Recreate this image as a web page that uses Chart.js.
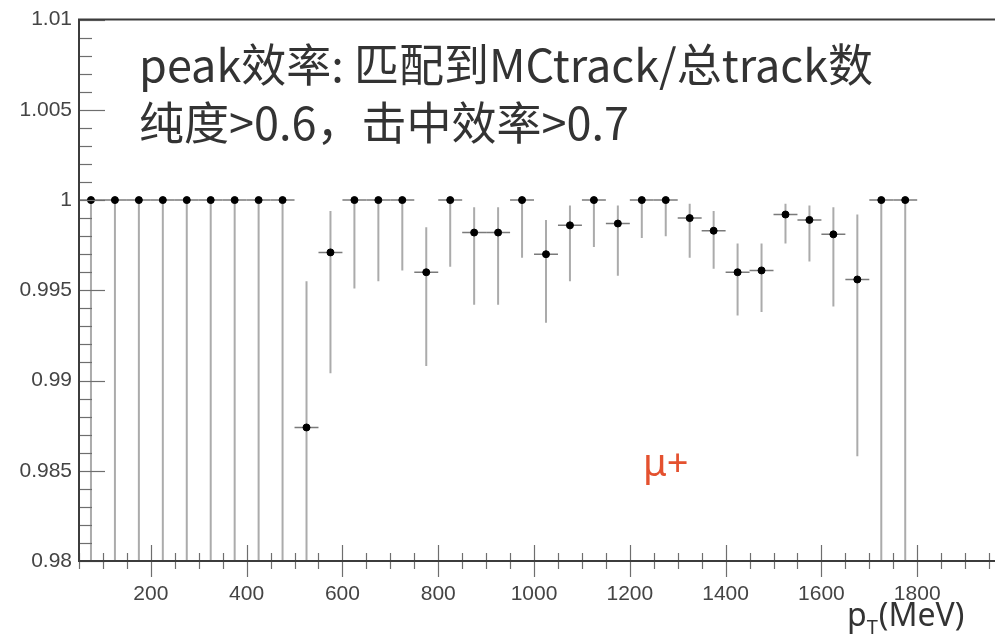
<!DOCTYPE html>
<html>
<head>
<meta charset="utf-8">
<script src="https://cdn.jsdelivr.net/npm/chart.js@4.4.1/dist/chart.umd.min.js"></script>
<style>
  html, body { margin: 0; padding: 0; background: #fff; overflow: hidden; width: 995px; height: 638px; }
  #wrap { position: relative; width: 1020px; height: 638px; }
</style>
</head>
<body>
<div id="wrap"><canvas id="chart" width="1020" height="638"></canvas></div>
<script>
// bin centres (MeV), 50 MeV wide bins
const ptBins = [75, 125, 175, 225, 275, 325, 375, 425, 475, 525, 575, 625, 675, 725, 775, 825, 875, 925, 975,
  1025, 1075, 1125, 1175, 1225, 1275, 1325, 1375, 1425, 1475, 1525, 1575, 1625, 1675, 1725, 1775];
const binHalfWidth = 25;

// efficiency per bin
const effValues = [1, 1, 1, 1, 1, 1, 1, 1, 1, 0.9874, 0.9971, 1, 1, 1, 0.9960, 1, 0.9982, 0.9982, 1,
  0.9970, 0.9986, 1, 0.9987, 1, 1, 0.9990, 0.9983, 0.9960, 0.9961, 0.9992, 0.9989, 0.9981, 0.9956, 1, 1];

// error band edges
const effUpper = [1, 1, 1, 1, 1, 1, 1, 1, 1, 0.9955, 0.9994, 1, 1, 1, 0.9985, 1, 0.9996, 0.9996, 1,
  0.9989, 0.9997, 1, 0.9997, 1, 1, 0.9998, 0.9994, 0.9976, 0.9976, 0.9998, 0.9997, 0.9996, 0.9992, 1, 1];
const effLower = [0.97, 0.97, 0.97, 0.97, 0.97, 0.97, 0.97, 0.97, 0.97, 0.97, 0.9904, 0.9951, 0.9955, 0.9961, 0.9908, 0.9963, 0.9942, 0.9942, 0.9968,
  0.9932, 0.9955, 0.9974, 0.9958, 0.9979, 0.9980, 0.9968, 0.9962, 0.9936, 0.9938, 0.9976, 0.9966, 0.9941, 0.9858, 0.97, 0.97];

const xTickLabels = [200, 400, 600, 800, 1000, 1200, 1400, 1600, 1800];
const yTickLabels = [0.98, 0.985, 0.99, 0.995, 1, 1.005, 1.01];

const titleLine1 = "peak效率: 匹配到MCtrack/总track数";
const titleLine2 = "纯度>0.6，击中效率>0.7";
const particleLabel = "μ+";

const points = ptBins.map((x, i) => ({ x: x, y: effValues[i] }));

// error bars, drawn under the markers
const errorBars = {
  id: "errorBars",
  beforeDatasetsDraw(chart) {
    const { ctx, chartArea: a, scales: { x, y } } = chart;
    ctx.save();
    ctx.beginPath();
    ctx.rect(a.left, a.top, a.right - a.left, a.bottom - a.top);
    ctx.clip();
    ptBins.forEach((v, i) => {
      const px = x.getPixelForValue(v);
      const py = y.getPixelForValue(effValues[i]);
      ctx.strokeStyle = "#ababab";
      ctx.lineWidth = 2;
      ctx.beginPath();
      ctx.moveTo(px, y.getPixelForValue(effLower[i]));
      ctx.lineTo(px, y.getPixelForValue(effUpper[i]));
      ctx.stroke();
      ctx.strokeStyle = "#7a7a7a";
      ctx.lineWidth = 1.5;
      ctx.beginPath();
      ctx.moveTo(x.getPixelForValue(v - binHalfWidth), py);
      ctx.lineTo(x.getPixelForValue(v + binHalfWidth), py);
      ctx.stroke();
    });
    ctx.restore();
  }
};

// ROOT style frame + inner ticks
const frameTicks = {
  id: "frameTicks",
  afterDraw(chart) {
    const { ctx, chartArea: a, scales: { x, y } } = chart;
    ctx.save();
    ctx.strokeStyle = "#6e6e6e";
    ctx.lineWidth = 1.2;
    // y ticks (every 0.001, major every 0.005)
    for (let k = 0; k <= 30; k++) {
      const v = 0.98 + k * 0.001;
      const py = Math.round(y.getPixelForValue(v)) + 0.5;
      const len = k % 5 === 0 ? 26 : 13;
      ctx.beginPath();
      ctx.moveTo(a.left, py);
      ctx.lineTo(a.left + len, py);
      ctx.stroke();
    }
    // x ticks (every 50, major every 200), crossing the axis
    for (let v = 50; v <= 2000; v += 50) {
      const px = Math.round(x.getPixelForValue(v)) + 0.5;
      const len = v % 200 === 0 ? 16 : 8;
      ctx.beginPath();
      ctx.moveTo(px, a.bottom - len);
      ctx.lineTo(px, a.bottom + len);
      ctx.stroke();
    }
    // frame
    ctx.strokeStyle = "#3c3c3c";
    ctx.lineWidth = 2;
    ctx.beginPath();
    ctx.moveTo(a.right, a.top);
    ctx.lineTo(a.left, a.top);
    ctx.lineTo(a.left, a.bottom);
    ctx.lineTo(a.right, a.bottom);
    ctx.stroke();

    // slide text
    ctx.fillStyle = "#333";
    ctx.textBaseline = "alphabetic";
    ctx.font = '45px "Noto Sans CJK SC"';
    ctx.fillText(titleLine1, 139, 82);
    ctx.fillText(titleLine2, 139, 140);

    ctx.fillStyle = "#e4512f";
    ctx.font = '38px "Noto Sans"';
    ctx.fillText(particleLabel, 643, 476);

    // axis title p_T(MeV)
    ctx.fillStyle = "#333";
    ctx.font = '32px "Noto Sans"';
    ctx.fillText("p", 847, 626);
    const pw = ctx.measureText("p").width;
    ctx.font = '20px "Noto Sans"';
    ctx.fillText("T", 847 + pw, 634);
    const tw = ctx.measureText("T").width;
    ctx.font = '32px "Noto Sans"';
    ctx.fillText("(MeV)", 847 + pw + tw + 1, 626);
    ctx.restore();
  }
};

new Chart(document.getElementById("chart"), {
  type: "scatter",
  data: {
    datasets: [{
      data: points,
      pointRadius: 3.5,
      pointHoverRadius: 3.5,
      pointBackgroundColor: "#000",
      pointBorderColor: "#000",
      showLine: false
    }]
  },
  options: {
    responsive: false,
    animation: false,
    events: [],
    layout: { padding: { top: 19, right: 7, left: 0, bottom: 0 } },
    plugins: { legend: { display: false }, tooltip: { enabled: false } },
    scales: {
      x: {
        type: "linear",
        min: 50,
        max: 2000,
        afterFit: s => { s.height = 77; },
        afterBuildTicks: s => { s.ticks = xTickLabels.map(v => ({ value: v })); },
        grid: { display: false, drawTicks: false },
        border: { display: false },
        ticks: {
          font: { family: "Liberation Sans", size: 21 },
          color: "#444",
          padding: 21,
          maxRotation: 0,
          autoSkip: false,
          callback: v => String(v)
        }
      },
      y: {
        type: "linear",
        min: 0.98,
        max: 1.01,
        afterFit: s => { s.width = 79; },
        afterBuildTicks: s => { s.ticks = yTickLabels.map(v => ({ value: v })); },
        grid: { display: false, drawTicks: false },
        border: { display: false },
        ticks: {
          font: { family: "Liberation Sans", size: 21 },
          color: "#444",
          padding: 7,
          autoSkip: false,
          callback: v => String(v)
        }
      }
    }
  },
  plugins: [errorBars, frameTicks]
});
</script>
</body>
</html>
